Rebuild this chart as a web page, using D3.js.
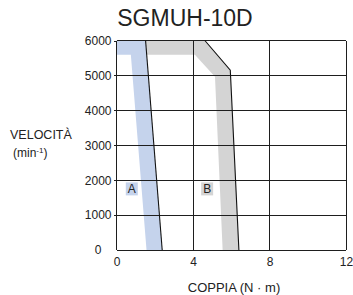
<!DOCTYPE html>
<html>
<head>
<meta charset="utf-8">
<script src="https://cdn.jsdelivr.net/npm/d3@7"></script>
<style>
  body { margin: 0; background: #fff; }
  text { font-family: "Liberation Sans", Arial, sans-serif; fill: #222; }
</style>
</head>
<body>
<script>
// dati
const speedTicks = [0, 1000, 2000, 3000, 4000, 5000, 6000];
const torqueTicks = [0, 4, 8, 12];

// curva A (zona continua) : coppia, velocità
const lineATorque = [1.52, 2.39];
const lineASpeed = [6000, 0];
// bordo interno della banda blu
const bandATorque = [1.57, 0.75, 0];
const bandASpeed = [0, 5590, 5590];

// curva B (zona intermittente)
const lineBTorque = [4.62, 5.95, 6.40];
const lineBSpeed = [6000, 5150, 0];
// bordo interno della banda grigia
const bandBTorque = [5.55, 5.15, 4.10, 1.58];
const bandBSpeed = [0, 4960, 5590, 5590];

const zoneLabels = ["A", "B"];
const zoneTorque = [0.8, 4.74];
const zoneSpeed = [1750, 1750];

const W = 353, H = 295;
const margin = { left: 116.5, right: 7, top: 40.5, bottom: 45 };

const svg = d3.select("body").append("svg")
  .attr("width", W)
  .attr("height", H);

const x = d3.scaleLinear().domain([0, 12]).range([margin.left, W - margin.right]);
const y = d3.scaleLinear().domain([0, 6000]).range([H - margin.bottom, margin.top]);

const blue = "#c5d3ec";
const grey = "#d4d4d4";

const pts = (tq, sp) => tq.map((t, i) => [x(t), y(sp[i])]);
const line = d3.line();

// banda blu A
const polyA = [[x(0), y(6000)]]
  .concat(pts(lineATorque, lineASpeed))
  .concat(pts(bandATorque, bandASpeed));
svg.append("path").attr("d", line(polyA) + "Z").attr("fill", blue);

// banda grigia B
const polyB = [[x(lineATorque[0]), y(6000)]]
  .concat(pts(lineBTorque, lineBSpeed))
  .concat(pts(bandBTorque, bandBSpeed));
svg.append("path").attr("d", line(polyB) + "Z").attr("fill", grey);

// griglia
const grid = svg.append("g")
  .attr("stroke", "#1e1e1e")
  .attr("stroke-width", 1)
  .attr("shape-rendering", "crispEdges");
grid.selectAll(".gx").data(torqueTicks).enter().append("line")
  .attr("x1", d => x(d)).attr("x2", d => x(d))
  .attr("y1", y(0)).attr("y2", y(6000));
grid.selectAll(".gy").data(speedTicks).enter().append("line")
  .attr("x1", x(0)).attr("x2", x(12))
  .attr("y1", d => y(d)).attr("y2", d => y(d));

// assi
const yAxis = svg.append("g")
  .attr("transform", `translate(${x(0)},0)`)
  .call(d3.axisLeft(y).tickValues(speedTicks).tickFormat(d3.format("d"))
    .tickSizeInner(3).tickSizeOuter(0).tickPadding(2));
yAxis.select(".domain").remove();
yAxis.selectAll("line").attr("stroke", "#1e1e1e").attr("shape-rendering", "crispEdges");
yAxis.selectAll("text")
  .attr("font-size", 12)
  .attr("font-family", "Liberation Sans, Arial, sans-serif")
  .attr("fill", "#222")
  .attr("dx", d => d === 0 ? -10 : 0);
yAxis.selectAll(".tick").filter(d => d === 0).select("line").remove();

const xAxis = svg.append("g")
  .attr("transform", `translate(0,${y(0)})`)
  .call(d3.axisBottom(x).tickValues(torqueTicks).tickFormat(d3.format("d"))
    .tickSize(0).tickPadding(7.5));
xAxis.select(".domain").remove();
xAxis.selectAll("text")
  .attr("font-size", 12)
  .attr("font-family", "Liberation Sans, Arial, sans-serif")
  .attr("fill", "#222");

// curve limite
svg.append("path").attr("d", line(pts(lineATorque, lineASpeed)))
  .attr("fill", "none").attr("stroke", "#111").attr("stroke-width", 1.1);
svg.append("path").attr("d", line(pts(lineBTorque, lineBSpeed)))
  .attr("fill", "none").attr("stroke", "#111").attr("stroke-width", 1.1);

// etichette zone
const zl = svg.selectAll(".zone").data(zoneLabels).enter().append("g");
zl.append("rect")
  .attr("x", (d, i) => x(zoneTorque[i]) - 6)
  .attr("y", (d, i) => y(zoneSpeed[i]) - 6.5)
  .attr("width", 12).attr("height", 13)
  .attr("fill", (d, i) => i === 0 ? blue : grey);
zl.append("text")
  .attr("x", (d, i) => x(zoneTorque[i]))
  .attr("y", (d, i) => y(zoneSpeed[i]) + 4.3)
  .attr("text-anchor", "middle")
  .attr("font-size", 12)
  .text(d => d);

// titoli
svg.append("text")
  .attr("x", 185).attr("y", 26)
  .attr("text-anchor", "middle")
  .attr("font-size", 23)
  .text("SGMUH-10D");

svg.append("text")
  .attr("x", 234).attr("y", 292)
  .attr("text-anchor", "middle")
  .attr("font-size", 13)
  .text("COPPIA (N · m)");

svg.append("text")
  .attr("x", 10).attr("y", 139)
  .attr("font-size", 12.5)
  .text("VELOCITÀ");

const unit = svg.append("text")
  .attr("x", 13).attr("y", 157)
  .attr("font-size", 12);
unit.append("tspan").text("(min");
unit.append("tspan").attr("font-size", 8).attr("dy", -4).text("-1");
unit.append("tspan").attr("dy", 4).text(")");
</script>
</body>
</html>
